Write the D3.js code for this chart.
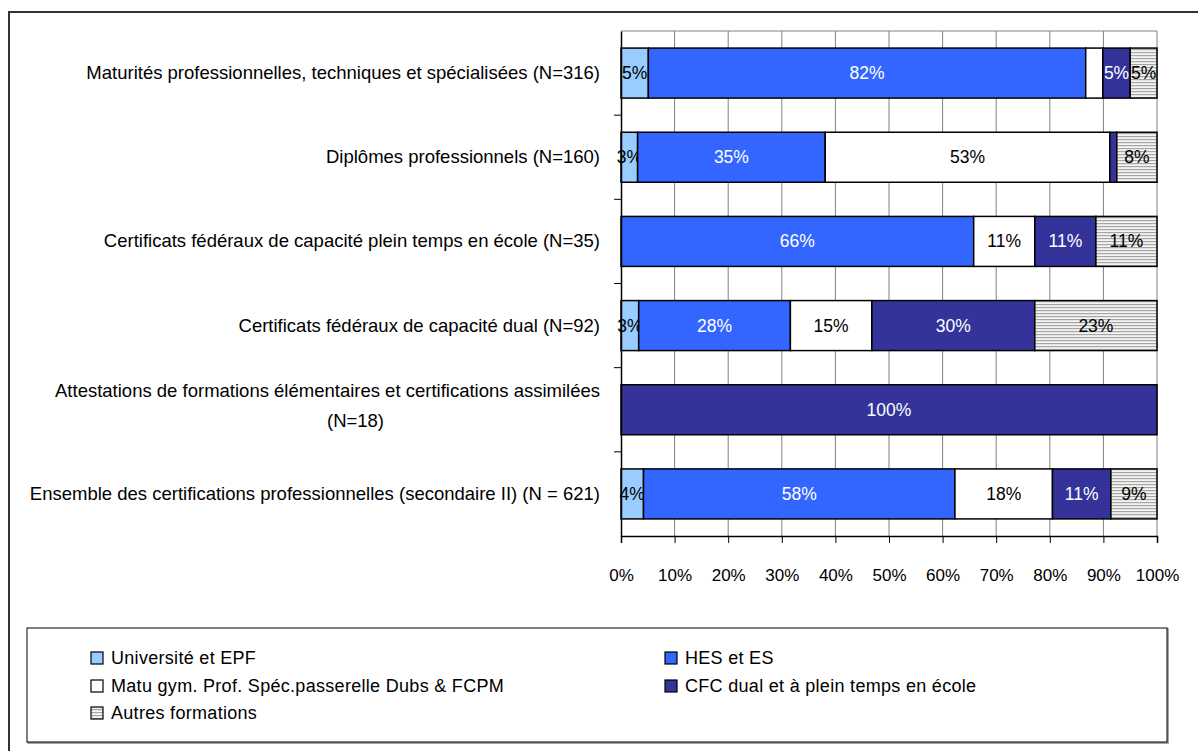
<!DOCTYPE html>
<html>
<head>
<meta charset="utf-8">
<script src="https://cdn.jsdelivr.net/npm/d3@7"></script>
<style>
  body { margin: 0; background: #fff; }
  svg { font-family: "Liberation Sans", Arial, sans-serif; }
</style>
</head>
<body>
<svg width="1198" height="751"></svg>
<script>
const svg = d3.select("svg");

// data (shares in %)
const categories = [
	"Maturités professionnelles, techniques et spécialisées (N=316)",
	"Diplômes professionnels (N=160)",
	"Certificats fédéraux de capacité plein temps en école (N=35)",
	"Certificats fédéraux de capacité dual (N=92)",
	"Attestations de formations élémentaires et certifications assimilées|(N=18)",
	"Ensemble des certifications professionnelles (secondaire II) (N = 621)"
];
const universite = [5.1, 3.1, 0, 3.3, 0, 4.2];
const hes = [81.6, 35.0, 65.8, 28.3, 0, 58.1];
const matu = [3.2, 53.1, 11.4, 15.2, 0, 18.2];
const cfc = [5.1, 1.3, 11.4, 30.4, 100, 10.9];
const autres = [5.0, 7.5, 11.4, 22.8, 0, 8.6];

const seriesKeys = ["universite", "hes", "matu", "cfc", "autres"];
const seriesNames = [
	"Université et EPF",
	"HES et ES",
	"Matu gym. Prof. Spéc.passerelle Dubs & FCPM",
	"CFC dual et à plein temps en école",
	"Autres formations"
];
const tickValues = [0, 10, 20, 30, 40, 50, 60, 70, 80, 90, 100];
// labels that are not shown in the original
const hiddenLabels = [[0, "matu"], [1, "cfc"]];

const colors = {
	universite: "#99ccff",
	hes: "#3366ff",
	matu: "#ffffff",
	cfc: "#333399",
	autres: "url(#hatch)"
};
const labelColors = { universite: "#000", hes: "#fff", matu: "#000", cfc: "#fff", autres: "#000" };

const rows = categories.map((c, i) => ({
	cat: c,
	universite: universite[i],
	hes: hes[i],
	matu: matu[i],
	cfc: cfc[i],
	autres: autres[i]
}));

// hatch pattern for "Autres formations"
const defs = svg.append("defs");
const pat = defs.append("pattern")
	.attr("id", "hatch")
	.attr("patternUnits", "userSpaceOnUse")
	.attr("width", 4).attr("height", 3);
pat.append("rect").attr("width", 4).attr("height", 3).attr("fill", "#f4f4f4");
pat.append("rect").attr("y", 1).attr("width", 4).attr("height", 1.2).attr("fill", "#a6a6a6");

// outer frame (only top and left visible)
svg.append("path")
	.attr("d", "M9,751V12H1198")
	.attr("fill", "none")
	.attr("stroke", "#333")
	.attr("stroke-width", 2);

const x = d3.scaleLinear().domain([0, 100]).range([621, 1157]);
const y = d3.scaleBand().domain(d3.range(categories.length)).range([31, 536])
	.paddingInner(0.406).paddingOuter(0.203);

const plot = svg.append("g");

// gridlines + top border of plot area
plot.selectAll("line.grid")
	.data(tickValues.slice(1))
	.enter().append("line")
	.attr("class", "grid")
	.attr("x1", d => x(d)).attr("x2", d => x(d))
	.attr("y1", 31).attr("y2", 536)
	.attr("stroke", "#808080")
	.attr("stroke-width", 1);
plot.append("line")
	.attr("x1", x(0)).attr("x2", x(100))
	.attr("y1", 31).attr("y2", 31)
	.attr("stroke", "#808080");

// stacked bars
const stack = d3.stack().keys(seriesKeys);
const stacked = stack(rows);

const layers = plot.selectAll("g.layer")
	.data(stacked)
	.enter().append("g")
	.attr("class", "layer");

layers.selectAll("rect")
	.data(d => d.map((s, i) => ({ key: d.key, i: i, x0: s[0], x1: s[1] })).filter(s => s.x1 - s.x0 > 0))
	.enter().append("rect")
	.attr("x", d => x(d.x0))
	.attr("y", d => y(d.i))
	.attr("width", d => x(d.x1) - x(d.x0))
	.attr("height", y.bandwidth())
	.attr("fill", d => colors[d.key])
	.attr("stroke", "#000")
	.attr("stroke-width", 1.5);

layers.selectAll("text")
	.data(d => d.map((s, i) => ({ key: d.key, i: i, x0: s[0], x1: s[1] }))
		.filter(s => s.x1 - s.x0 > 0)
		.filter(s => !hiddenLabels.some(h => h[0] === s.i && h[1] === s.key)))
	.enter().append("text")
	.attr("x", d => (x(d.x0) + x(d.x1)) / 2)
	.attr("y", d => y(d.i) + y.bandwidth() / 2 + 6)
	.attr("text-anchor", "middle")
	.attr("font-size", 17.5)
	.attr("fill", d => labelColors[d.key])
	.text(d => Math.round(d.x1 - d.x0) + "%");

// y axis
const yAxis = d3.axisLeft(y).tickSize(0).tickFormat("");
const gy = svg.append("g").attr("transform", "translate(621,0)").call(yAxis);
gy.select(".domain").attr("stroke", "#000").attr("stroke-width", 1.5);
gy.selectAll("line.sep")
	.data(d3.range(1, categories.length))
	.enter().append("line")
	.attr("class", "sep")
	.attr("x1", -7).attr("x2", 0)
	.attr("y1", d => y(d) - y.step() * y.paddingInner() / 2)
	.attr("y2", d => y(d) - y.step() * y.paddingInner() / 2)
	.attr("stroke", "#000");

// category labels
const catLabels = svg.append("g").attr("font-size", 18.5).attr("fill", "#000");
categories.forEach((c, i) => {
	const parts = c.split("|");
	const cy = y(i) + y.bandwidth() / 2;
	if (parts.length === 1) {
		catLabels.append("text")
			.attr("x", 600).attr("y", cy + 6)
			.attr("text-anchor", "end")
			.text(c);
	} else {
		const t1 = catLabels.append("text")
			.attr("x", 600).attr("y", cy - 13)
			.attr("text-anchor", "end")
			.text(parts[0]);
		const w = t1.node().getComputedTextLength();
		catLabels.append("text")
			.attr("x", 600 - w / 2 + 28).attr("y", cy + 17)
			.attr("text-anchor", "middle")
			.text(parts[1]);
	}
});

// x axis
const xAxis = d3.axisBottom(x).tickValues(tickValues).tickSize(7).tickPadding(26)
	.tickFormat(d => d + "%");
const gx = svg.append("g").attr("transform", "translate(0,536)").call(xAxis);
gx.select(".domain").attr("stroke", "#000").attr("stroke-width", 1.5);
gx.selectAll(".tick line").attr("stroke", "#000");
gx.selectAll(".tick text")
	.attr("font-size", 17)
	.attr("font-family", "Liberation Sans, Arial, sans-serif")
	.attr("fill", "#000");

// legend
const legend = svg.append("g");
legend.append("rect")
	.attr("x", 28).attr("y", 629).attr("width", 1140).attr("height", 114)
	.attr("fill", "none").attr("stroke", "#888").attr("stroke-width", 1.5);
legend.append("rect")
	.attr("x", 27).attr("y", 628).attr("width", 1140).attr("height", 114)
	.attr("fill", "#fff").attr("stroke", "#000").attr("stroke-width", 1);

const legendPos = [[91, 657], [665, 657], [91, 685], [665, 685], [91, 712]];
seriesKeys.forEach((k, i) => {
	const [lx, ly] = legendPos[i];
	legend.append("rect")
		.attr("x", lx).attr("y", ly - 5)
		.attr("width", 12).attr("height", 12)
		.attr("fill", colors[k])
		.attr("stroke", "#000").attr("stroke-width", 1.2);
	legend.append("text")
		.attr("x", lx + 20).attr("y", ly + 7)
		.attr("font-size", 18)
		.attr("letter-spacing", 0.3)
		.text(seriesNames[i]);
});
</script>
</body>
</html>
